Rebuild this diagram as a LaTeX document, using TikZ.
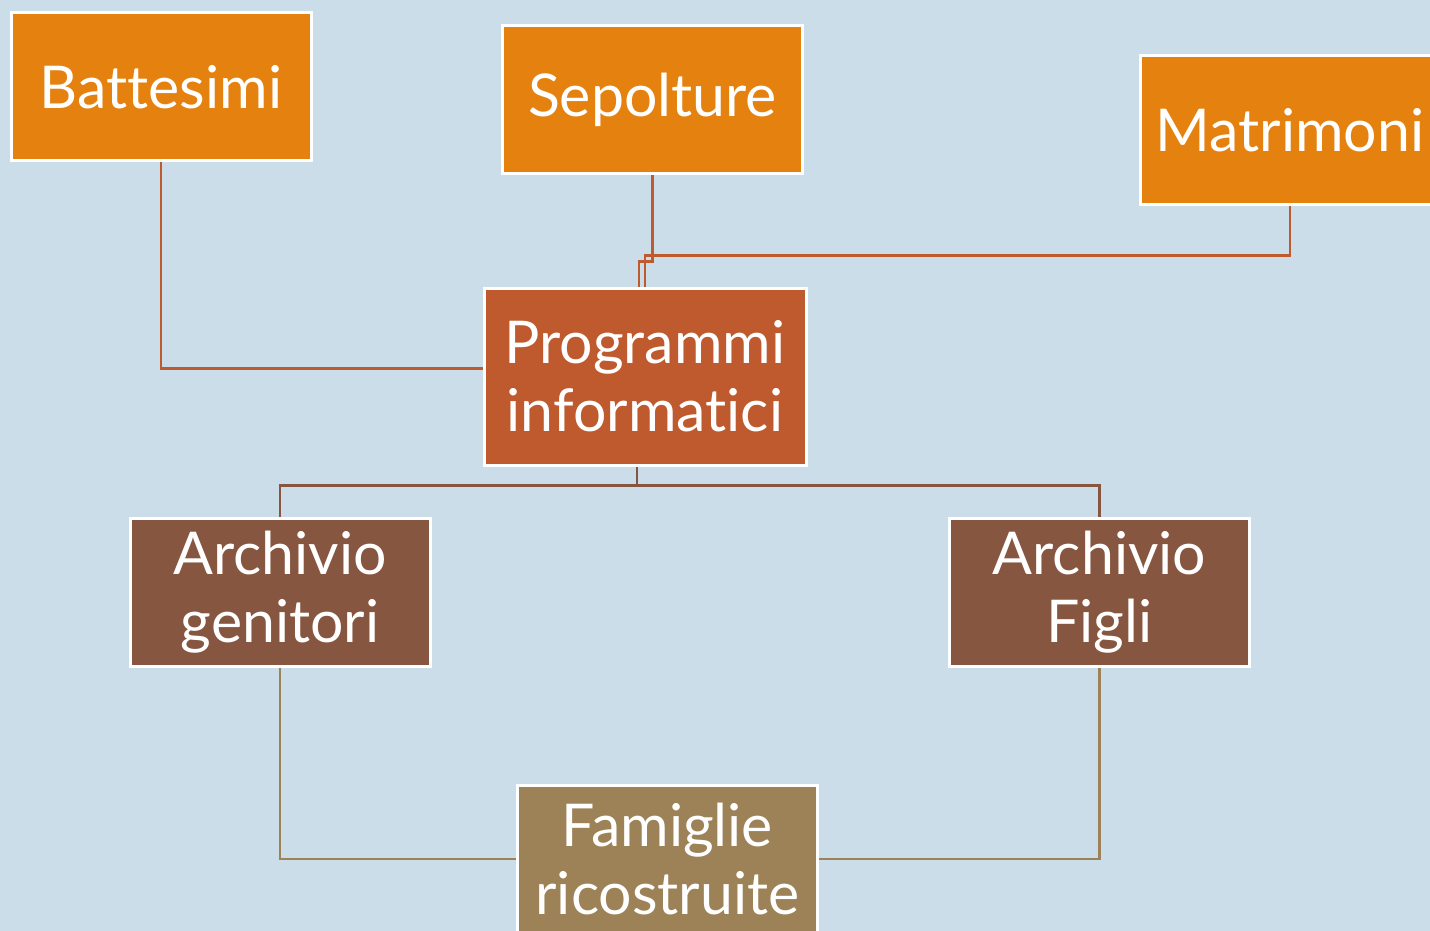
\documentclass[tikz,border=0pt]{standalone}
\usepackage{fontspec}
\setmainfont{Lato}[Ligatures=NoCommon]
\usetikzlibrary{positioning,calc}
\definecolor{sfondo}{HTML}{CBDDE8}
\definecolor{arancio}{HTML}{E5820F}
\definecolor{ruggine}{HTML}{BE5A2D}
\definecolor{marrone}{HTML}{875640}
\definecolor{oliva}{HTML}{9C8256}
\tikzset{
  box/.style={draw=white, line width=3pt, rectangle, text=white, align=center,
    minimum width=300pt, minimum height=148pt, inner sep=0pt,
    font=\fontsize{59}{68}\selectfont},
  fonte/.style={box, fill=arancio},
  prog/.style={box, fill=ruggine, minimum width=322pt, minimum height=177pt},
  archivio/.style={box, fill=marrone},
  risultato/.style={box, fill=oliva},
  link/.style={line width=2.5pt}
}

\begin{document}
\begin{tikzpicture}[x=1pt, y=-1pt]
\useasboundingbox[fill=sfondo] (0,0) rectangle (1430,931);
\node[fonte] (bat) at (161,87) {Battesimi};
\node[fonte] (sep) at (652.5,100) {Sepolture};
\node[fonte] (mat) at (1290,130) {Matrimoni};
\node[prog] (pi) at (645,376.5) {Programmi\\informatici};
\node[archivio] (gen) at (280,592) {Archivio\\genitori};
\node[archivio] (fig) at (1099.5,592) {Archivio\\Figli};
\node[risultato] (fam) at (667.5,859) {Famiglie\\ricostruite};
\draw[link, ruggine] (bat.south) |- ($(pi.west)+(0,-8)$);
\draw[link, ruggine] (sep.south) -- ++(0,86) -| ([xshift=-6pt]pi.north);
\draw[link, ruggine] (mat.south) -- ++(0,50) -| (pi.north);
\draw[link, marrone] ([xshift=-8pt]pi.south) -- ++(0,19) coordinate (nodo);
\draw[link, marrone] (gen.north) |- (nodo) -| (fig.north);
\draw[link, oliva] (gen.south) |- (fam.west);
\draw[link, oliva] (fig.south) |- (fam.east);
\end{tikzpicture}
\end{document}
